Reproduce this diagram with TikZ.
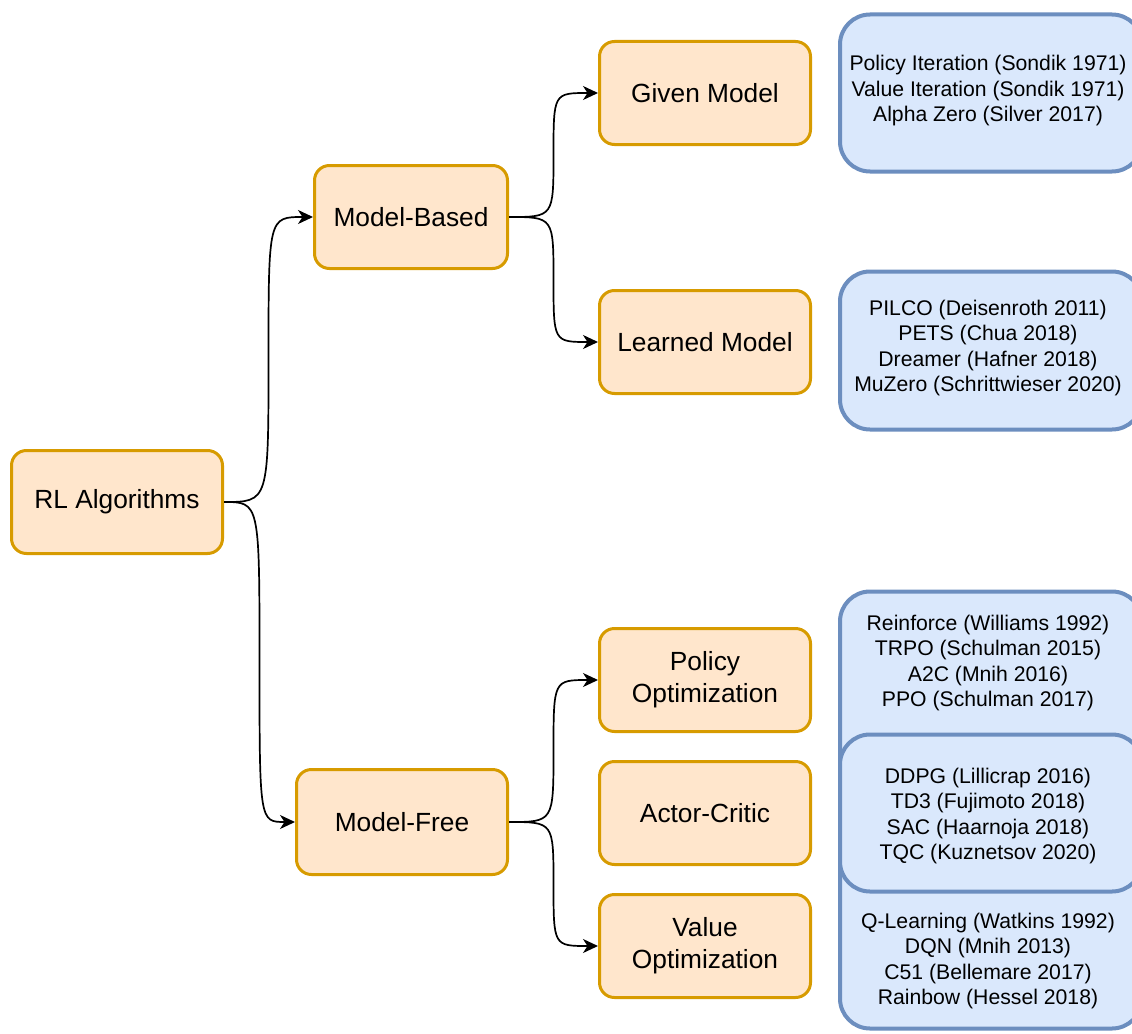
\documentclass[tikz,border=0pt]{standalone}
\usepackage{fontspec}
\setmainfont{Liberation Sans}
\usetikzlibrary{calc,arrows.meta}
\definecolor{orfill}{HTML}{FFE6CC}
\definecolor{ordraw}{HTML}{D79B00}
\definecolor{blfill}{HTML}{DAE8FC}
\definecolor{bldraw}{HTML}{6C8EBF}

% curved elbow connector: east side of #1 to west side of #2,
% two quadratic pieces that meet halfway on the vertical run
\newcommand\treelink[2]{\draw[link] let \p1=(#1.east), \p2=(#2.west),
  \n1={(\x1+\x2)/2}, \n2={(\y1+\y2)/2} in
  (\p1) .. controls (\n1,\y1) .. (\n1,\n2) .. controls (\n1,\y2) .. (\p2);}

\begin{document}
\begin{tikzpicture}[x=1pt,y=-1pt,
  catbox/.style={draw=ordraw,fill=orfill,line width=3pt,rounded corners=15pt,
    minimum width=211pt,minimum height=103pt,inner sep=0pt,align=center,
    font=\fontsize{26.3}{32}\selectfont},
  listbox/.style={draw=bldraw,fill=blfill,line width=4pt,rounded corners=30pt,
    minimum width=302pt,inner sep=0pt},
  listtext/.style={align=center,inner sep=0pt,font=\fontsize{21.2}{25.5}\selectfont},
  link/.style={line width=1.7pt,-{Stealth[length=15pt,width=14pt,inset=4.5pt]}}]

\useasboundingbox (0,0) rectangle (1132,1033);
\clip (0,0) rectangle (1132,1033);

% categories
\node[catbox] (rl) at (117,502) {RL Algorithms};
\node[catbox,minimum width=193pt] (mb) at (411,217) {Model-Based};
\node[catbox,minimum height=105pt] (mf) at (402,822) {Model-Free};
\node[catbox] (gm) at (705,93) {Given Model};
\node[catbox] (lm) at (705,342) {Learned Model};
\node[catbox] (po) at (705,680) {Policy\\Optimization};
\node[catbox] (ac) at (705,813) {Actor-Critic};
\node[catbox] (vo) at (705,946) {Value\\Optimization};

% algorithm lists
\node[listbox,minimum height=157pt] (bgm) at (991,93) {};
\node[listtext] (tgm) at (988,91) {Policy Iteration (Sondik 1971)\\Value Iteration (Sondik 1971)\\Alpha Zero (Silver 2017)};
\node[listbox,minimum height=158pt] (blm) at (991,350.5) {};
\node[listtext] (tlm) at (988,348) {PILCO (Deisenroth 2011)\\PETS (Chua 2018)\\Dreamer (Hafner 2018)\\MuZero (Schrittwieser 2020)};
\node[listbox,minimum height=267pt] (bpo) at (991,725) {};
\node[listbox,minimum height=267pt] (bvo) at (991,895) {};
\node[listbox,minimum height=157pt] (bac) at (991,813) {};
\node[listtext] (tpo) at (988,663) {Reinforce (Williams 1992)\\TRPO (Schulman 2015)\\A2C (Mnih 2016)\\PPO (Schulman 2017)};
\node[listtext] (tac) at (988,816) {DDPG (Lillicrap 2016)\\TD3 (Fujimoto 2018)\\SAC (Haarnoja 2018)\\TQC (Kuznetsov 2020)};
\node[listtext] (tvo) at (988,961) {Q-Learning (Watkins 1992)\\DQN (Mnih 2013)\\C51 (Bellemare 2017)\\Rainbow (Hessel 2018)};

% connectors
\treelink{rl}{mb}
\treelink{rl}{mf}
\treelink{mb}{gm}
\treelink{mb}{lm}
\treelink{mf}{po}
\treelink{mf}{vo}
\end{tikzpicture}
\end{document}
